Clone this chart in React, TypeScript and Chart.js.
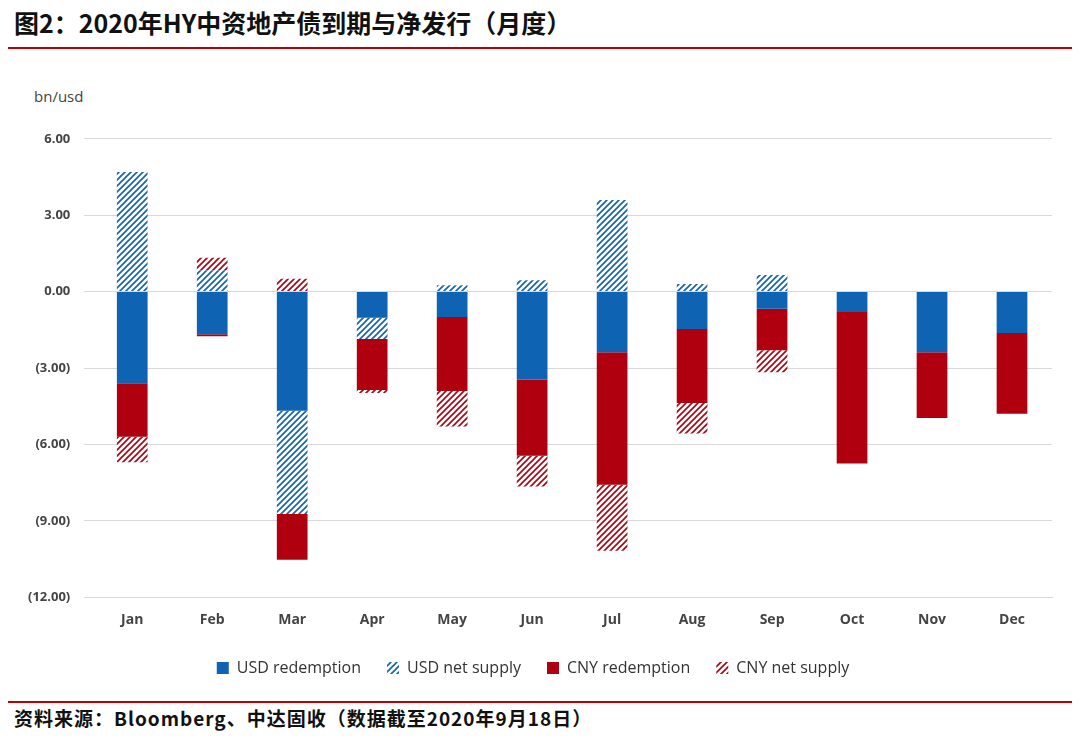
import React, { useEffect, useRef } from "react";
import { Chart, registerables } from "chart.js";
Chart.register(...registerables);

const months = ["Jan","Feb","Mar","Apr","May","Jun","Jul","Aug","Sep","Oct","Nov","Dec"];
const usdRedemption = [-3.6,-1.67,-4.68,-1.03,-1.0,-3.45,-2.38,-1.47,-0.67,-0.8,-2.38,-1.63];
const usdNetSupply = [4.7,0.83,-4.05,-0.83,0.25,0.45,3.6,0.3,0.65,0,0,0];
const cnyRedemption = [-2.1,-0.08,-1.8,-2.0,-2.9,-3.0,-5.2,-2.9,-1.63,-5.95,-2.58,-3.17];
const cnyNetSupply = [-1.0,0.5,0.5,-0.12,-1.4,-1.2,-2.6,-1.2,-0.87,0,0,0];

const BLUE = "#0F63B3";
const RED = "#B00010";

function hatch(color: string): CanvasPattern | string {
  const c = document.createElement("canvas");
  c.width = 6; c.height = 6;
  const g = c.getContext("2d");
  if (!g) return color;
  g.fillStyle = "#fff"; g.fillRect(0, 0, 6, 6);
  g.strokeStyle = color; g.lineWidth = 1.6;
  g.beginPath();
  g.moveTo(-1, 7); g.lineTo(7, -1);
  g.moveTo(-1, 1); g.lineTo(1, -1);
  g.moveTo(5, 7); g.lineTo(7, 5);
  g.stroke();
  return g.createPattern(c, "repeat") || color;
}

export default function App() {
  const ref = useRef<HTMLCanvasElement>(null);
  useEffect(() => {
    document.body.style.margin = "0";
    const font = "'Open Sans', 'Noto Sans', sans-serif";
    const chart = new Chart(ref.current!, {
      type: "bar",
      data: {
        labels: months,
        datasets: [
          { label: "USD redemption", data: usdRedemption, backgroundColor: BLUE },
          { label: "USD net supply", data: usdNetSupply, backgroundColor: hatch(BLUE) as any },
          { label: "CNY redemption", data: cnyRedemption, backgroundColor: RED },
          { label: "CNY net supply", data: cnyNetSupply, backgroundColor: hatch(RED) as any },
        ],
      },
      options: {
        animation: false,
        responsive: false,
        maintainAspectRatio: false,
        layout: { padding: { left: 14, right: 28, top: 8, bottom: 10 } },
        datasets: { bar: { categoryPercentage: 0.8, barPercentage: 0.48 } },
        plugins: {
          tooltip: { enabled: false },
          legend: {
            position: "bottom",
            labels: {
              usePointStyle: true, pointStyle: "rect", boxWidth: 12, boxHeight: 12,
              padding: 26, color: "#333", font: { family: font, size: 16 },
            },
          },
        },
        scales: {
          x: {
            stacked: true,
            grid: { display: false },
            border: { color: "#d9d9d9" },
            ticks: { color: "#444", font: { family: font, size: 14, weight: "bold" }, padding: 6 },
          },
          y: {
            stacked: true, min: -12, max: 6,
            afterBuildTicks: (ax: any) => { ax.ticks = [-12,-9,-6,-3,0,3,6].map(v => ({ value: v })); },
            grid: { color: "#d9d9d9" },
            border: { display: false },
            ticks: {
              color: "#444", padding: 14, font: { family: font, size: 13, weight: "bold" },
              callback: (v: any) => { const n = Number(v); return n < 0 ? `(${Math.abs(n).toFixed(2)})` : n.toFixed(2); },
            },
          },
        },
      },
    });
    return () => chart.destroy();
  }, []);
  const cjk = "'Noto Sans CJK SC', sans-serif";
  return (
    <div style={{ position: "relative", width: 1080, height: 744, background: "#fff", overflow: "hidden" }}>
      <div style={{ position: "absolute", left: 14, top: 4, fontFamily: cjk, fontWeight: 700, fontSize: 25, color: "#111" }}>
        图2：2020年HY中资地产债到期与净发行（月度）
      </div>
      <div style={{ position: "absolute", left: 8, right: 8, top: 47, height: 2, background: "#C00000" }} />
      <div style={{ position: "absolute", left: 34, top: 86, fontFamily: "'Open Sans', sans-serif", fontSize: 15, color: "#444" }}>bn/usd</div>
      <canvas ref={ref} width={1080} height={579} style={{ position: "absolute", left: 0, top: 117, width: 1080, height: 579 }} />
      <div style={{ position: "absolute", left: 8, right: 8, top: 701, height: 2, background: "#C00000" }} />
      <div style={{ position: "absolute", left: 14, top: 704, fontFamily: cjk, fontWeight: 700, fontSize: 19, color: "#111", letterSpacing: 1 }}>
        资料来源：Bloomberg、中达固收（数据截至2020年9月18日）
      </div>
    </div>
  );
}
